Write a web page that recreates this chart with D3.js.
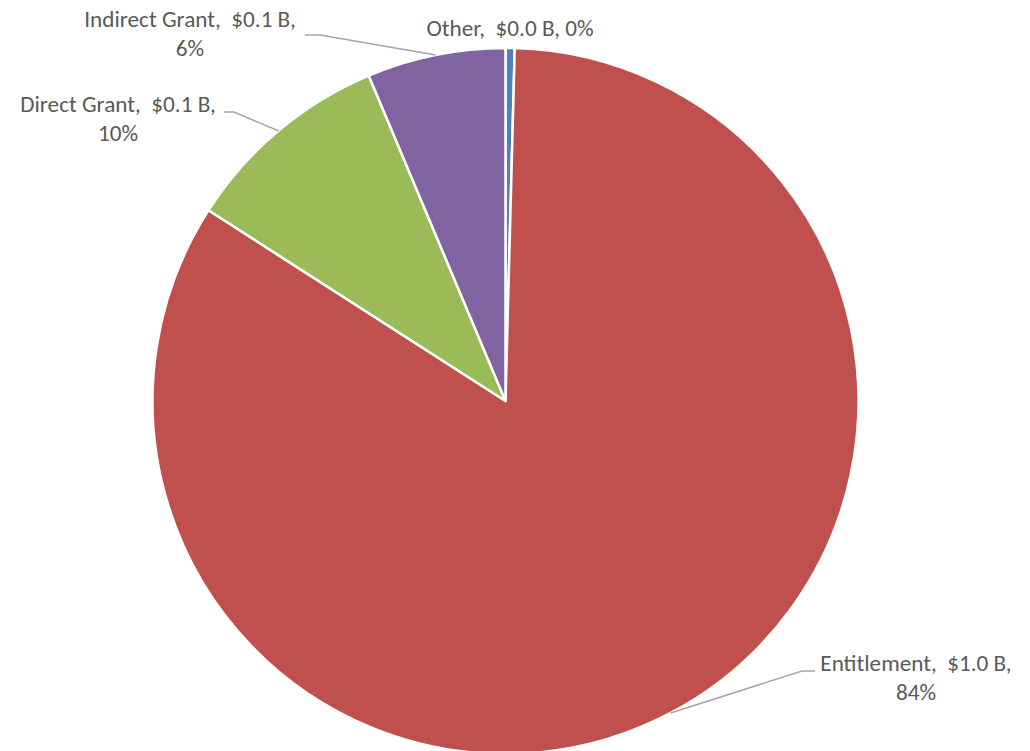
<!DOCTYPE html>
<html>
<head>
<meta charset="utf-8">
<script src="https://cdn.jsdelivr.net/npm/d3@7"></script>
<style>
  html, body { margin: 0; padding: 0; background: #ffffff; }
  svg { display: block; }
  .lbl { font-family: Calibri, Carlito, Lato, "Open Sans", sans-serif; fill: #595959; white-space: pre; }
</style>
</head>
<body>
<svg id="chart" width="1030" height="751"></svg>
<script>
// Funding by source, in billions of dollars
const categories = ["Other", "Entitlement", "Direct Grant", "Indirect Grant"];
const amounts = [0.005, 1.004, 0.115, 0.076];
const colors = ["#4F81BD", "#C0504D", "#9BBB59", "#8064A2"];

// Label placement: centre x, first-line baseline, leader elbow and end
const labelLayout = {
  "Other":          { x: 510, y: 36,  lines: 1, leader: null },
  "Entitlement":    { x: 916, y: 671, lines: 2, leader: [[802, 671], [815, 671]] },
  "Direct Grant":   { x: 118, y: 112, lines: 2, leader: [[234, 112], [224, 112]] },
  "Indirect Grant": { x: 190, y: 27,  lines: 2, leader: [[320, 35], [305, 35]] }
};

const width = 1030, height = 751;
const cx = 505.5, cy = 401, radius = 353;
const fontSize = 23.2;
const lineGap = 28.5;

const svg = d3.select("#chart");
const g = svg.append("g").attr("transform", `translate(${cx},${cy})`);

const data = categories.map((c, i) => ({ name: c, value: amounts[i], color: colors[i] }));
const total = d3.sum(amounts);

const pie = d3.pie().value(d => d.value).sort(null).startAngle(0).endAngle(2 * Math.PI);
const arcs = pie(data);
const arc = d3.arc().innerRadius(0).outerRadius(radius);

g.selectAll("path.slice")
  .data(arcs)
  .join("path")
  .attr("class", "slice")
  .attr("d", arc)
  .attr("fill", d => d.data.color)
  .attr("stroke", "#ffffff")
  .attr("stroke-width", 2.5)
  .attr("stroke-linejoin", "round");

const fmtB = d3.format(".1f");
const fmtP = d3.format(".0%");

// Leader lines from the slice's outer edge midpoint to the label
arcs.forEach(a => {
  const lay = labelLayout[a.data.name];
  if (!lay.leader) return;
  const mid = (a.startAngle + a.endAngle) / 2;
  const px = cx + Math.sin(mid) * radius;
  const py = cy - Math.cos(mid) * radius;
  const pts = [[px, py]].concat(lay.leader);
  svg.append("path")
    .attr("d", d3.line()(pts))
    .attr("fill", "none")
    .attr("stroke", "#a6a6a6")
    .attr("stroke-width", 1.5);
});

// Data labels: name, amount, share
arcs.forEach(a => {
  const lay = labelLayout[a.data.name];
  const amt = `$${fmtB(a.data.value)} B`;
  const pct = fmtP(a.data.value / total);
  const t = svg.append("text")
    .attr("class", "lbl")
    .attr("text-anchor", "middle")
    .attr("font-size", fontSize);
  if (lay.lines === 1) {
    t.append("tspan").attr("x", lay.x).attr("y", lay.y)
      .text(`${a.data.name},  ${amt}, ${pct}`);
  } else {
    t.append("tspan").attr("x", lay.x).attr("y", lay.y)
      .text(`${a.data.name},  ${amt},`);
    t.append("tspan").attr("x", lay.x).attr("y", lay.y + lineGap)
      .text(pct);
  }
});
</script>
</body>
</html>
